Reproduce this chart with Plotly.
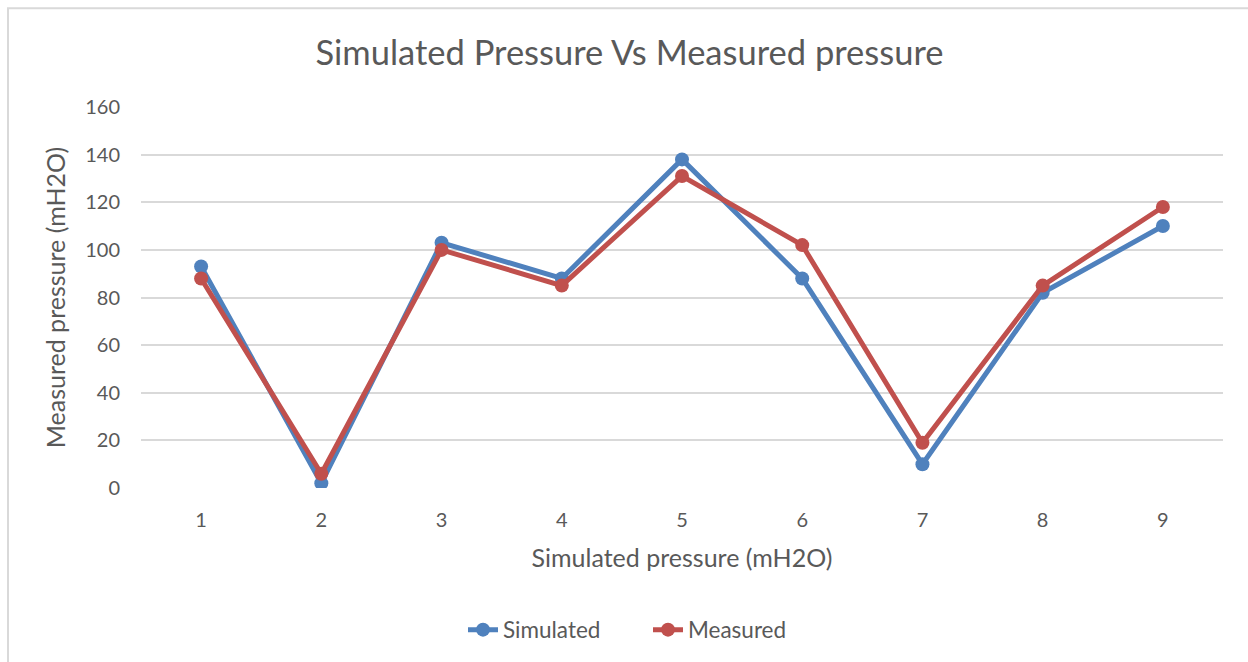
import plotly.graph_objects as go

categories = [1, 2, 3, 4, 5, 6, 7, 8, 9]
simulated = [93, 2, 103, 88, 138, 88, 10, 82, 110]
measured = [88, 6, 100, 85, 131, 102, 19, 85, 118]
y_ticks = [0, 20, 40, 60, 80, 100, 120, 140, 160]

FONT = "Lato, 'Open Sans', sans-serif"
GRAY = "#595959"

fig = go.Figure()
fig.add_trace(go.Scatter(x=categories, y=simulated, name="Simulated", mode="lines+markers",
                         line=dict(color="#4F81BD", width=5),
                         marker=dict(color="#4F81BD", size=14)))
fig.add_trace(go.Scatter(x=categories, y=measured, name="Measured", mode="lines+markers",
                         line=dict(color="#C0504D", width=5),
                         marker=dict(color="#C0504D", size=14)))

fig.update_layout(
    width=1248, height=662,
    margin=dict(l=141, r=25, t=107, b=173),
    paper_bgcolor="white", plot_bgcolor="white",
    font=dict(family=FONT, color=GRAY, size=20),
    title=dict(text="Simulated Pressure Vs Measured pressure", x=629.5 / 1248,
               xref="container", xanchor="center",
               y=1 - 53 / 662, yanchor="middle",
               font=dict(size=34.5, color=GRAY, family=FONT)),
    xaxis=dict(range=[0.5, 9.5], tickmode="array", tickvals=categories,
               ticktext=[str(c) for c in categories], showgrid=False, zeroline=False,
               showline=False, ticks="", ticklen=0, ticklabelstandoff=18,
               title=dict(text="Simulated pressure (mH2O)", font=dict(size=25, color=GRAY), standoff=19),
               tickfont=dict(size=20, color=GRAY)),
    yaxis=dict(range=[0, 160], tickvals=y_ticks, showgrid=True, gridcolor="#d9d9d9", gridwidth=2,
               zeroline=False, showline=False, ticks="", ticklabelstandoff=20,
               title=dict(text="Measured pressure (mH2O)", font=dict(size=25, color=GRAY), standoff=12),
               tickfont=dict(size=20, color=GRAY)),
    legend=dict(orientation="h", x=(648 - 141) / 1082, xanchor="center", y=(489 - 630) / 382,
                yanchor="middle", font=dict(size=22.5, color=GRAY),
                entrywidth=140, entrywidthmode="pixels"),
    shapes=[dict(type="rect", xref="paper", yref="paper",
                 x0=(8 - 141) / 1082, x1=(1270 - 141) / 1082,
                 y0=(489 - 680) / 382, y1=(489 - 8) / 382,
                 line=dict(color="#d9d9d9", width=2), layer="below")],
    showlegend=True,
)

fig.write_html("out.html", post_script="document.body.style.margin='0';",
               config={"displayModeBar": False})
